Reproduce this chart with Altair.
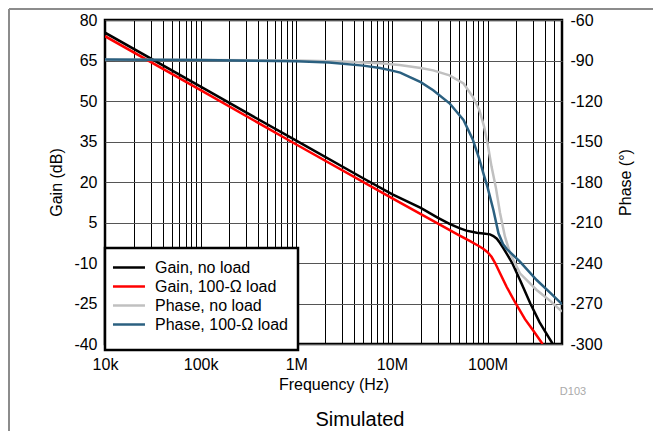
import altair as alt
import pandas as pd

FONT = "Liberation Sans, Arial, sans-serif"

SERIES = ["Gain, no load", "Gain, 100-Ω load", "Phase, no load", "Phase, 100-Ω load"]
COLORS = ["#000000", "#ff0000", "#c0c0c0", "#2b6080"]

# Gain, no load
GNL_F = [1e4, 1e5, 1e6, 5e6, 1e7, 2e7, 3e7, 4e7, 5e7, 6e7, 7.7e7, 9e7, 1.06e8, 1.15e8,
         1.25e8, 1.35e8, 1.46e8, 1.6e8, 1.81e8, 2.2e8, 2.8e8, 3.5e8, 4.8e8]
GNL_V = [75.3, 55.3, 35.3, 21.4, 15.5, 10.4, 6.8, 4.5, 3.0, 2.0, 1.2, 0.9, 0.6, 0.0,
         -1.0, -2.6, -4.5, -6.8, -10.0, -16.6, -25.0, -32.0, -40.0]
# Gain, 100-Ω load
GL_F = [1e4, 1e5, 1e6, 1e7, 3e7, 5e7, 6.5e7, 8e7, 9e7, 1e8, 1.1e8, 1.2e8, 1.35e8,
        1.58e8, 1.97e8, 2.46e8, 3e8, 3.76e8]
GL_V = [74.0, 54.0, 33.9, 14.0, 4.7, 0.3, -1.8, -3.6, -4.7, -6.0, -7.7, -10.0, -13.8,
        -18.8, -25.0, -30.8, -35.0, -40.0]
# Phase, no load
PNL_F = [1e4, 1e5, 1e6, 3e6, 7.5e6, 1.2e7, 2e7, 2.7e7, 4e7, 5.6e7, 7e7, 8.2e7, 9.2e7,
         1e8, 1.1e8, 1.22e8, 1.35e8, 1.52e8, 1.72e8, 2.18e8, 3.26e8, 4.5e8, 6e8]
PNL_V = [-89.5, -89.6, -90.0, -90.8, -92.1, -93.3, -95.5, -97.3, -101.0, -107.0, -116.8,
         -126.7, -139.0, -151.4, -168.6, -184.0, -203.0, -220.5, -232.8, -247.6, -260.0,
         -268.0, -276.0]
# Phase, 100-Ω load
PL_F = [1e4, 1e5, 1e6, 2.2e6, 5e6, 7.5e6, 1e7, 1.22e7, 1.5e7, 2e7, 2.7e7, 4e7, 5.6e7,
        7e7, 8.2e7, 9.2e7, 1e8, 1.15e8, 1.3e8, 1.45e8, 1.58e8, 2.18e8, 3.26e8, 4.5e8, 6e8]
PL_V = [-89.3, -89.6, -90.6, -91.5, -93.8, -95.6, -97.5, -99.0, -102.0, -106.0, -112.0,
        -121.7, -134.0, -148.5, -163.0, -175.5, -184.0, -200.7, -218.0, -226.0, -229.5,
        -239.0, -252.6, -262.0, -270.5]

GAIN_TICKS = [-40, -25, -10, 5, 20, 35, 50, 65, 80]
PHASE_TICKS = [-300, -270, -240, -210, -180, -150, -120, -90, -60]
DECADES = [1e4, 1e5, 1e6, 1e7, 1e8]
DECADE_LABELS = ["10k", "100k", "1M", "10M", "100M"]
X_DOMAIN = [1e4, 6e8]

GRID_X = [m * 10 ** e for e in range(4, 9) for m in range(1, 10) if m * 10 ** e <= 6e8]


def frame(f, v, name):
    return pd.DataFrame({"freq": f, "value": v, "series": name})


gain_df = pd.concat([frame(GNL_F, GNL_V, SERIES[0]), frame(GL_F, GL_V, SERIES[1])])
phase_df = pd.concat([frame(PNL_F, PNL_V, SERIES[2]), frame(PL_F, PL_V, SERIES[3])])

label_expr = ""
for d, lab in zip(DECADES, DECADE_LABELS):
    label_expr += f"datum.value == {int(d)} ? '{lab}' : "
label_expr += "''"

color = alt.Color(
    "series:N",
    scale=alt.Scale(domain=SERIES, range=COLORS),
    legend=alt.Legend(
        title=" ", titleOrient="bottom", titleFontSize=6, titlePadding=1,
        orient="none", legendX=0, legendY=228,
        symbolType="M-1.44,0H2.56", symbolStrokeWidth=2.5, symbolSize=256,
        labelFontSize=16, labelFont=FONT, labelColor="black", labelLimit=400,
        padding=10, rowPadding=1, labelOffset=21,
        strokeColor="black", fillColor="white", cornerRadius=0,
    ),
)

xscale = alt.Scale(type="log", domain=X_DOMAIN, nice=False)

x_axis = alt.Axis(
    values=GRID_X, labelExpr=label_expr, title="Frequency (Hz)",
    grid=True, gridColor="#000000", gridWidth=1, ticks=False, domain=False,
    labelFontSize=16, labelFont=FONT, labelColor="black", labelPadding=12,
    labelFlush=False, labelOverlap=False,
    titleFontSize=16, titleFont=FONT, titleFontWeight="normal", titleColor="black",
    titlePadding=4,
)

gain = alt.Chart(gain_df).mark_line(strokeWidth=2.5, clip=True).encode(
    x=alt.X("freq:Q", scale=xscale, axis=x_axis),
    y=alt.Y("value:Q", scale=alt.Scale(domain=[-40, 80], nice=False, zero=False),
            axis=alt.Axis(values=GAIN_TICKS, title="Gain (dB)", grid=True,
                          labelExpr="datum.value + ''",
                          gridColor="#555555", gridWidth=1, ticks=False, domain=False,
                          labelFontSize=16, labelFont=FONT, labelColor="black",
                          labelPadding=8, titleFontSize=16, titleFont=FONT,
                          titleFontWeight="normal", titleColor="black", titlePadding=9)),
    color=color,
)

phase = alt.Chart(phase_df).mark_line(strokeWidth=2.5, clip=True).encode(
    x=alt.X("freq:Q", scale=xscale),
    y=alt.Y("value:Q", scale=alt.Scale(domain=[-300, -60], nice=False, zero=False),
            axis=alt.Axis(orient="right", values=PHASE_TICKS, title="Phase (°)", grid=False,
                          labelExpr="datum.value + ''",
                          ticks=False, domain=False, labelFontSize=16, labelFont=FONT,
                          labelColor="black", labelPadding=8, titleFontSize=16,
                          titleFont=FONT, titleFontWeight="normal", titleColor="black",
                          titleAngle=270, titleBaseline="top", titlePadding=15)),
    color=color,
)

one = pd.DataFrame({"t": [""]})
border_top = alt.Chart(one).mark_rule(color="#8c8c8c", strokeWidth=2).encode(
    x=alt.value(-96), x2=alt.value(560), y=alt.value(-11))
border_left = alt.Chart(one).mark_rule(color="#8c8c8c", strokeWidth=2).encode(
    x=alt.value(-96), y=alt.value(-11), y2=alt.value(420))

code_txt = alt.Chart(pd.DataFrame({"t": ["D103"]})).mark_text(
    fontSize=11, font=FONT, color="#aaaaaa", baseline="middle").encode(
    x=alt.value(468), y=alt.value(372), text="t:N")
sim_txt = alt.Chart(pd.DataFrame({"t": ["Simulated"]})).mark_text(
    fontSize=20, font=FONT, color="black", baseline="middle").encode(
    x=alt.value(255), y=alt.value(400), text="t:N")

chart = alt.layer(gain, phase, border_top, border_left, code_txt, sim_txt).resolve_scale(
    y="independent"
).properties(
    width=457, height=324,
    autosize=alt.AutoSizeParams(type="none"),
    padding={"left": 97, "top": 12, "right": 91, "bottom": 87},
).configure_view(stroke="black", strokeWidth=2.5).configure_legend(strokeWidth=2.5)

chart.save("out.html", embed_options={"renderer": "svg", "actions": False})
